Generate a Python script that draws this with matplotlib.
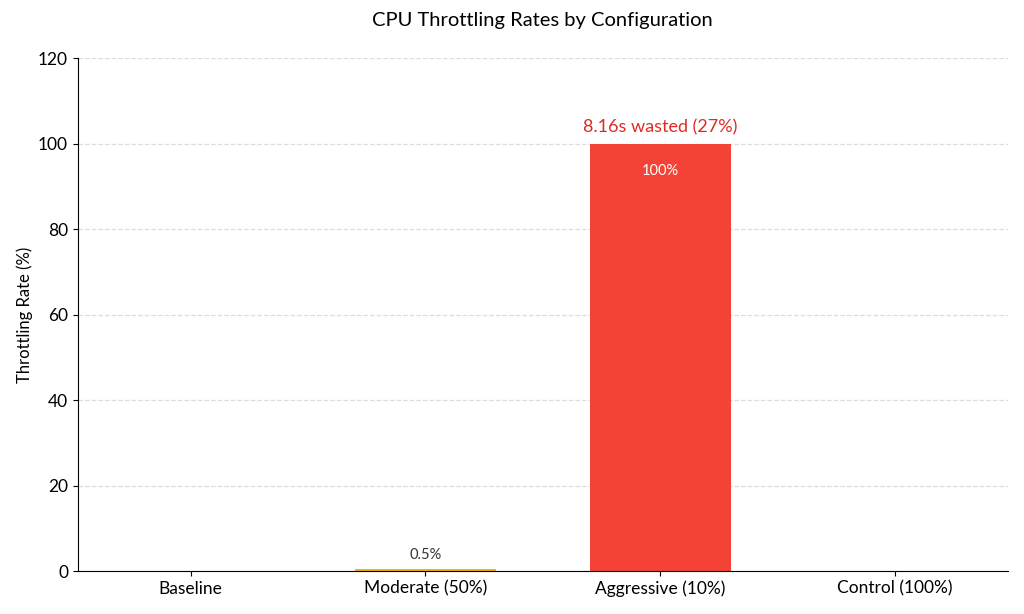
import matplotlib.pyplot as plt

plt.rcParams['font.family'] = ['Lato', 'DejaVu Sans']

configs = ['Baseline', 'Moderate (50%)', 'Aggressive (10%)', 'Control (100%)']
throttle_pct = [0, 0.5, 100, 0]
bar_colors = ['#9E9E9E', '#F4B400', '#F44336', '#9E9E9E']
wasted_note = '8.16s wasted (27%)'

fig, ax = plt.subplots(figsize=(10.24, 6.14), dpi=100)

bars = ax.bar(range(len(configs)), throttle_pct, width=0.6, color=bar_colors)

for i, v in enumerate(throttle_pct):
    if v <= 0:
        continue
    if v > 50:
        ax.text(i, v - 6.3, f'{v:g}%', ha='center', va='center', color='white', fontsize=10.5)
        ax.text(i, v + 2, wasted_note, ha='center', va='bottom', color='#DD2C25', fontsize=13)
    else:
        ax.text(i, v + 1.5, f'{v:g}%', ha='center', va='bottom', color='#333333', fontsize=10.5)

ax.set_xticks(range(len(configs)))
ax.set_xticklabels(configs, fontsize=12.5)
ax.set_ylim(0, 120)
ax.set_yticks(range(0, 121, 20))
ax.tick_params(axis='y', labelsize=12.5)
ax.set_ylabel('Throttling Rate (%)', fontsize=12)
ax.set_title('CPU Throttling Rates by Configuration', fontsize=14.5, pad=23)

ax.grid(axis='y', linestyle='--', color='#DDDDDD', linewidth=0.9)
ax.set_axisbelow(True)
ax.spines['top'].set_visible(False)
ax.spines['right'].set_visible(False)

fig.subplots_adjust(left=0.076, right=0.984, top=0.905, bottom=0.07)
plt.savefig('out.png', dpi=100)
plt.close()
